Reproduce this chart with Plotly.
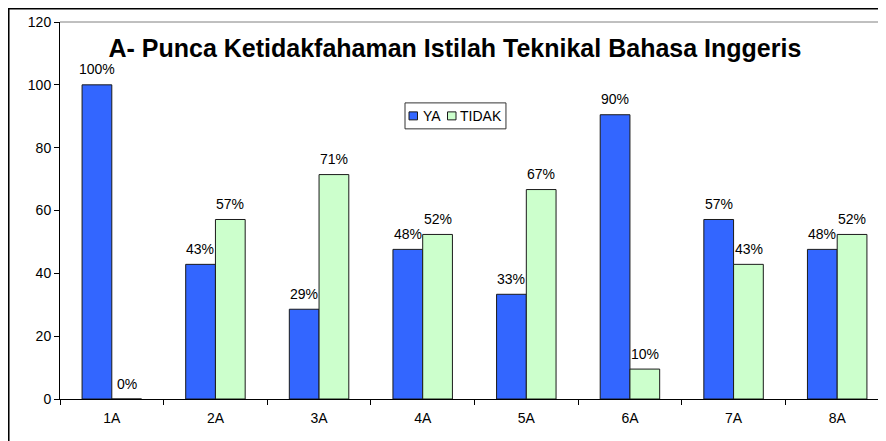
import plotly.graph_objects as go

categories = ["1A", "2A", "3A", "4A", "5A", "6A", "7A", "8A"]
ya_values = [100.0, 42.86, 28.57, 47.62, 33.33, 90.48, 57.14, 47.62]
tidak_values = [0.0, 57.14, 71.43, 52.38, 66.67, 9.52, 42.86, 52.38]
y_ticks = [0, 20, 40, 60, 80, 100, 120]
series_names = ["YA", "TIDAK"]
series_colors = ["#3366FF", "#CCFFCC"]
title_text = "A- Punca Ketidakfahaman Istilah Teknikal Bahasa Inggeris"

FONT = "Liberation Sans, Arial, sans-serif"
EDGE = "#1a1a1a"

fig = go.Figure()
for name, vals, col in zip(series_names, (ya_values, tidak_values), series_colors):
    fig.add_trace(go.Bar(
        name=name, x=categories, y=vals, showlegend=False,
        marker=dict(color=col, line=dict(color=EDGE, width=1)),
    ))

# data labels above each bar
annotations = []
for series, shift in ((ya_values, -15), (tidak_values, 15)):
    for cat, v in zip(categories, series):
        annotations.append(dict(
            x=cat, y=v, xref="x", yref="y", text=f"{round(v)}%",
            showarrow=False, xshift=shift, yshift=15.5, yanchor="middle",
            font=dict(family=FONT, size=14, color="#000000"),
        ))

# Excel-style compact legend (box, swatches, labels)
shapes = [
    dict(type="rect", xref="paper", yref="paper", x0=0.41768, x1=0.5399, y0=0.71656, y1=0.78543,
         line=dict(color="#333333", width=1), fillcolor="white"),
]
swatch_x = [(0.42252, 0.43281), (0.46913, 0.47942)]
text_x = [0.43705, 0.48184]
for (sx0, sx1), tx, name, col in zip(swatch_x, text_x, series_names, series_colors):
    shapes.append(dict(type="rect", xref="paper", yref="paper", x0=sx0, x1=sx1,
                       y0=0.74040, y1=0.76159, line=dict(color=EDGE, width=1), fillcolor=col))
    annotations.append(dict(x=tx, y=0.75099, xref="paper", yref="paper", text=name,
                            showarrow=False, xanchor="left", yanchor="middle",
                            font=dict(family=FONT, size=14, color="#000000")))

# plot area top border (grey)
shapes.append(dict(type="line", xref="paper", yref="paper", x0=0, x1=1, y0=1, y1=1,
                   line=dict(color="#808080", width=1)))
# outer chart border
shapes.append(dict(type="rect", xref="paper", yref="paper", x0=-0.0623, x1=1.2, y0=-0.3, y1=1.0358,
                   line=dict(color="#000000", width=2)))

fig.update_layout(
    width=878, height=433,
    margin=dict(l=52, r=0, t=14, b=41.5),
    paper_bgcolor="white", plot_bgcolor="white",
    font=dict(family=FONT, size=14, color="#000000"),
    barmode="group", bargap=0.426, bargroupgap=0,
    title=dict(text="<b>" + title_text + "</b>", font=dict(family=FONT, size=25, color="#000000"),
               x=0.509, xanchor="center", y=0.9076, yanchor="middle"),
    showlegend=False,
    annotations=annotations,
    shapes=shapes,
)
fig.update_xaxes(type="category", range=[-0.5, 7.471], tickson="boundaries",
                 ticks="outside", ticklen=5, tickcolor="#000000",
                 showline=True, linecolor="#000000", linewidth=1,
                 showgrid=False, tickfont=dict(family=FONT, size=14),
                 ticklabelstandoff=6)
fig.update_yaxes(range=[0, 120], tickvals=y_ticks, ticks="outside", ticklen=5,
                 tickcolor="#000000", showline=True, linecolor="#000000", linewidth=1,
                 showgrid=False, zeroline=False, tickfont=dict(family=FONT, size=14))

fig.write_html("out.html")
